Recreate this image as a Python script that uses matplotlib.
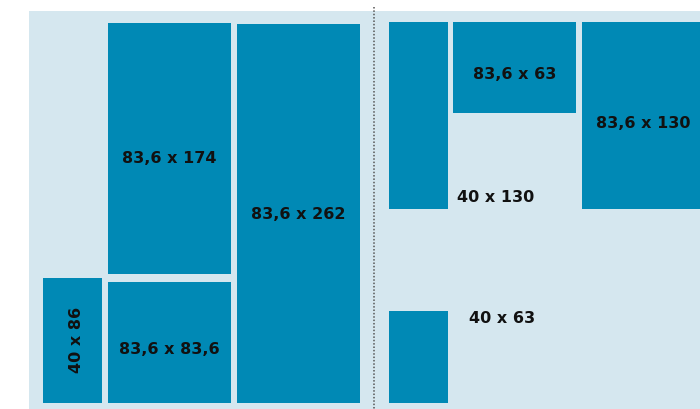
import matplotlib

matplotlib.use("Agg")
import matplotlib.pyplot as plt
from matplotlib.patches import Rectangle

# Panel sizes (width x height), as printed on the chart
left_labels = ["40 x 86", "83,6 x 83,6", "83,6 x 174", "83,6 x 262"]
left_widths = [40, 83.6, 83.6, 83.6]
left_heights = [86, 83.6, 174, 262]
left_columns = [0, 1, 1, 2]

right_labels = ["40 x 130", "40 x 63", "83,6 x 63", "83,6 x 130"]
right_widths = [40, 40, 83.6, 83.6]
right_heights = [130, 63, 63, 130]
right_columns = [0, 0, 1, 2]
right_anchor = ["top", "bottom", "top", "top"]

BOX = "#0089b5"
BG = "#d5e7ef"
TEXT = "#111111"
FONT = dict(family=["DejaVu Sans"], fontweight="bold", fontsize=11.5, color=TEXT)

# drawing scale: pixels per unit (the original is slightly stretched sideways)
SX, SY = 1.472, 1.445
W_PX, H_PX = 700, 409
GAP_X = 6 / SX
GAP_Y = 7.5 / SY
# labels sit a little below the box centre in the original
LEFT_NUDGE = [(4, 0), (0, 7), (0, 10), (0, 1)]
RIGHT_NUDGE = [(0, 0), (0, 0), (0, 7), (0, 8)]


def main() -> None:
    fig = plt.figure(figsize=(7.0, 4.09), dpi=100)
    ax = fig.add_axes([0, 0, 1, 1])
    ax.set_xlim(0, W_PX / SX)
    ax.set_ylim(H_PX / SY, 0)
    ax.axis("off")

    # background panel + dotted separator
    ax.add_patch(Rectangle((29 / SX, 11 / SY), (W_PX - 29) / SX, (H_PX - 11) / SY,
                           facecolor=BG, edgecolor="none", zorder=0))
    ax.plot([374 / SX, 374 / SX], [7 / SY, H_PX / SY], color="#555555",
            linestyle=(0, (1, 1.2)), linewidth=1.1, zorder=1)

    # left group: bottom aligned, stacked upwards in each column
    x0 = 43 / SX
    bottom = 402.5 / SY
    col_x = []
    x = x0
    for c in range(max(left_columns) + 1):
        col_x.append(x)
        w = max(left_widths[i] for i in range(len(left_widths)) if left_columns[i] == c)
        x += w + GAP_X
    col_y = {c: bottom for c in range(max(left_columns) + 1)}
    for lab, w, h, c, (dx, dy) in zip(left_labels, left_widths, left_heights,
                                      left_columns, LEFT_NUDGE):
        y_top = col_y[c] - h
        ax.add_patch(Rectangle((col_x[c], y_top), w, h, facecolor=BOX,
                               edgecolor="none", zorder=2))
        col_y[c] = y_top - GAP_Y
        cx, cy = col_x[c] + w / 2 + dx / SX, y_top + h / 2 + dy / SY
        rot = 90 if w < 50 else 0
        ax.text(cx, cy, lab, rotation=rot, ha="center", va="center", zorder=3, **FONT)

    # right group: some boxes hang from the top, some sit on the bottom
    top = 21.5 / SY
    rx = [389 / SX]
    rx.append(rx[0] + right_widths[0] + 5 / SX)
    rx.append(rx[1] + right_widths[2] + 6 / SX)
    for lab, w, h, c, anc, (dx, dy) in zip(right_labels, right_widths, right_heights,
                                           right_columns, right_anchor, RIGHT_NUDGE):
        y_top = top if anc == "top" else bottom - h
        ax.add_patch(Rectangle((rx[c], y_top), w, h, facecolor=BOX,
                               edgecolor="none", zorder=2))
        if w < 50:
            # narrow strips are labelled beside the box
            if anc == "top":
                ax.text(rx[c] + w + 9 / SX, y_top + h - 11.5 / SY, lab,
                        ha="left", va="center", zorder=3, **FONT)
            else:
                ax.text(rx[c] + w + 21 / SX, y_top + 7.5 / SY, lab,
                        ha="left", va="center", zorder=3, **FONT)
        else:
            ax.text(rx[c] + w / 2 + dx / SX, y_top + h / 2 + dy / SY, lab,
                    ha="center", va="center", zorder=3, **FONT)

    fig.savefig("out.png", dpi=100)


if __name__ == "__main__":
    main()
